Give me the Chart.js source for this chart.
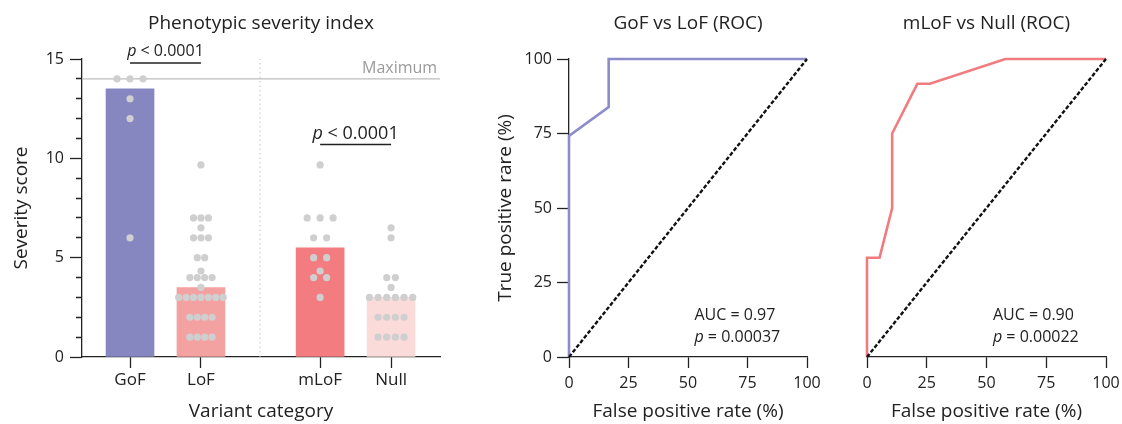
<!DOCTYPE html>
<html>
<head>
<meta charset="utf-8">
<script src="https://cdn.jsdelivr.net/npm/chart.js@4.4.1/dist/chart.umd.min.js"></script>
<style>
  html, body { margin: 0; padding: 0; background: #fff; overflow: hidden; }
  #wrap { position: relative; width: 1122px; height: 424px; }
  .panel { position: absolute; top: 0; height: 424px; }
</style>
</head>
<body>
<div id="wrap">
  <div class="panel" style="left:0;width:460px"><canvas id="severity"></canvas></div>
  <div class="panel" style="left:470px;width:370px"><canvas id="rocGof"></canvas></div>
  <div class="panel" style="left:845px;width:277px"><canvas id="rocMlof"></canvas></div>
</div>
<script>
// --- values ---
const categories = ['GoF', 'LoF', 'mLoF', 'Null'];
const medianScores = [13.5, 3.5, 5.5, 3];
const gofScores = [14, 14, 14, 13, 12, 6];
const lofScores = [9.67, 7, 7, 7, 6.5, 6, 6, 6, 5, 5, 4.33, 4, 4, 4, 4, 3.5,
                   3, 3, 3, 3, 3, 3, 3, 2, 2, 2, 2, 1, 1, 1, 1];
const mlofScores = [9.67, 7, 7, 7, 6, 6, 5, 5, 4.33, 4, 4, 3];
const nullScores = [6.5, 6, 4, 4, 3.5, 3, 3, 3, 3, 3, 3, 2, 2, 2, 2, 1, 1, 1, 1];
const severityTicks = [0, 5, 10, 15];
const maximumScore = 14;
const comparisonP = '< 0.0001';

const rocTicks = [0, 25, 50, 75, 100];
const gofLofFpr = [0, 0, 16.67, 16.67, 100];
const gofLofTpr = [0, 74.19, 83.87, 100, 100];
const mlofNullFpr = [0, 0, 5.26, 10.53, 10.53, 21.05, 26.32, 57.89, 100];
const mlofNullTpr = [0, 33.33, 33.33, 50, 75, 91.67, 91.67, 100, 100];
const chanceLine = [0, 100];
const aucValues = ['0.97', '0.90'];
const rocPValues = ['0.00037', '0.00022'];

// --- look ---
Chart.defaults.font.family = "'Open Sans', sans-serif";
Chart.defaults.color = '#222';
const ink = '#222';
const barColors = ['#8687c1', '#f4a1a2', '#f37c80', '#fbdada'];
const dotColor = '#cfcfcf';

// posiciones de las categorias en el eje x (hueco entre los dos pares)
const slotX = [0, 1, 2.68, 3.68];
const xMin = -0.677, xMax = 4.37, dividerX = 1.834;

// reparte los puntos iguales en fila (tipo beeswarm)
function swarm(values, center) {
  const counts = {};
  values.forEach(v => counts[v] = (counts[v] || 0) + 1);
  const maxCount = Math.max(...Object.values(counts));
  const step = Math.min(0.183, 0.733 / maxCount);
  const seen = {};
  return values.map(v => {
    const i = seen[v] || 0;
    seen[v] = i + 1;
    return { x: center + (i - (counts[v] - 1) / 2) * step, y: v };
  });
}

// texto con la "p" en cursiva
function drawRich(ctx, parts, x, y, size, align, color) {
  ctx.save();
  ctx.textBaseline = 'middle';
  ctx.textAlign = 'left';
  ctx.fillStyle = color || ink;
  const fonts = parts.map(p => (p.italic ? 'italic ' : '') + size + "px 'Open Sans'");
  const widths = parts.map((p, i) => { ctx.font = fonts[i]; return ctx.measureText(p.text).width; });
  const total = widths.reduce((a, b) => a + b, 0);
  let cx = align === 'center' ? x - total / 2 : align === 'right' ? x - total : x;
  parts.forEach((p, i) => { ctx.font = fonts[i]; ctx.fillText(p.text, cx, y); cx += widths[i]; });
  ctx.restore();
}

function titleOpts(text) {
  return { display: true, text: text, fullSize: false, color: ink,
           font: { size: 19, weight: 'normal' }, padding: { top: 12, bottom: 24.2 } };
}

function flatLine(points, color, width, dash) {
  return { type: 'line', data: points, borderColor: color, borderWidth: width,
           borderDash: dash || [], pointRadius: 0, fill: false, tension: 0, order: 4 };
}

// ---------- Phenotypic severity index ----------
const groups = [gofScores, lofScores, mlofScores, nullScores];

const severityLabels = {
  id: 'severityLabels',
  afterDatasetsDraw(chart) {
    const { ctx, scales: { x, y } } = chart;
    ctx.save();
    ctx.font = "16px 'Open Sans'";
    ctx.fillStyle = '#9a9a9a';
    ctx.textAlign = 'right';
    ctx.textBaseline = 'middle';
    ctx.fillText('Maximum', x.getPixelForValue(4.33), y.getPixelForValue(14.5));
    ctx.restore();
    drawRich(ctx, [{ text: 'p', italic: true }, { text: ' ' + comparisonP }],
      (x.getPixelForValue(slotX[0]) + x.getPixelForValue(slotX[1])) / 2, y.getPixelForValue(15.4), 16, 'center');
    drawRich(ctx, [{ text: 'p', italic: true }, { text: ' ' + comparisonP }],
      (x.getPixelForValue(slotX[2]) + x.getPixelForValue(slotX[3])) / 2, y.getPixelForValue(11.25), 18, 'center');
  }
};

new Chart(document.getElementById('severity'), {
  type: 'bar',
  data: {
    datasets: [
      { type: 'bar', data: slotX.map((x, i) => ({ x: x, y: medianScores[i] })),
        backgroundColor: barColors, barThickness: 48, order: 5 },
      flatLine([{ x: xMin, y: maximumScore }, { x: xMax, y: maximumScore }], '#bdbdbd', 1.2),
      flatLine([{ x: dividerX, y: 0 }, { x: dividerX, y: 15 }], '#c4c4c4', 1, [1.5, 3]),
      flatLine([{ x: slotX[0], y: 14.8 }, { x: slotX[1], y: 14.8 }], ink, 1.5),
      flatLine([{ x: slotX[2], y: 10.7 }, { x: slotX[3], y: 10.7 }], ink, 1.5),
      ...groups.map((g, i) => ({
        type: 'scatter', data: swarm(g, slotX[i]), pointRadius: 3.6,
        backgroundColor: dotColor, borderWidth: 0, order: 1
      }))
    ]
  },
  options: {
    responsive: true, maintainAspectRatio: false, animation: false, events: [],
    layout: { padding: { left: 0, right: 20, top: 0, bottom: 0 } },
    plugins: { legend: { display: false }, tooltip: { enabled: false },
               title: titleOpts('Phenotypic severity index') },
    scales: {
      x: {
        type: 'linear', min: xMin, max: xMax, offset: false,
        afterBuildTicks: s => { s.ticks = slotX.map(v => ({ value: v })); },
        afterFit: s => { s.height = 67; s.paddingLeft = 0; s.paddingRight = 0; },
        ticks: { autoSkip: false, maxRotation: 0, padding: 2, font: { size: 17 }, color: ink,
                 callback: (v, i) => categories[i] },
        grid: { offset: false, drawOnChartArea: false, tickLength: 11, tickColor: ink, tickWidth: 1.3 },
        border: { color: ink, width: 1.3 },
        title: { display: true, text: 'Variant category', color: ink, font: { size: 19 },
                 padding: { top: 0, bottom: 1 } }
      },
      y: {
        min: 0, max: 15,
        afterFit: s => { s.width = 82; s.paddingTop = 0; s.paddingBottom = 0; },
        ticks: { stepSize: 1, autoSkip: false, padding: 6, font: { size: 16 }, color: ink,
                 callback: v => severityTicks.includes(v) ? v : '' },
        grid: { drawOnChartArea: false, tickLength: 12, tickColor: ink, tickWidth: 1.3,
                tickBorderDash: c => severityTicks.includes(c.tick.value) ? [] : [0, 6, 6, 20] },
        border: { color: ink, width: 1.3 },
        title: { display: true, text: 'Severity score', color: ink, font: { size: 19 },
                 padding: { top: 10.3, bottom: 0 } }
      }
    }
  },
  plugins: [severityLabels]
});

// ---------- ROC curves ----------
function makeRoc(id, fpr, tpr, color, title, showY, k, pad) {
  const aucText = {
    id: 'aucText' + k,
    afterDatasetsDraw(chart) {
      const { ctx, scales: { x, y } } = chart;
      drawRich(ctx, [{ text: 'AUC = ' + aucValues[k] }], x.getPixelForValue(52.7), y.getPixelForValue(14), 16, 'left');
      drawRich(ctx, [{ text: 'p', italic: true }, { text: ' = ' + rocPValues[k] }],
        x.getPixelForValue(52.7), y.getPixelForValue(6.7), 16, 'left');
    }
  };
  new Chart(document.getElementById(id), {
    type: 'scatter',
    data: {
      datasets: [
        { type: 'line', data: fpr.map((v, i) => ({ x: v, y: tpr[i] })), borderColor: color,
          borderWidth: 2.6, pointRadius: 0, fill: false, tension: 0, order: 2, clip: false },
        { type: 'line', data: chanceLine.map(v => ({ x: v, y: v })), borderColor: '#111',
          borderWidth: 2.4, borderDash: [4, 2], pointRadius: 0, fill: false, order: 1, clip: false }
      ]
    },
    options: {
      responsive: true, maintainAspectRatio: false, animation: false, events: [],
      layout: { padding: pad },
      plugins: { legend: { display: false }, tooltip: { enabled: false }, title: titleOpts(title) },
      scales: {
        x: {
          type: 'linear', min: 0, max: 100,
          afterBuildTicks: s => { s.ticks = rocTicks.map(v => ({ value: v })); },
          afterFit: s => { s.height = 67; s.paddingLeft = 0; s.paddingRight = 0; },
          ticks: { autoSkip: false, maxRotation: 0, padding: 6, font: { size: 16 }, color: ink },
          grid: { drawOnChartArea: false, tickLength: 11, tickColor: ink, tickWidth: 1.3 },
          border: { color: ink, width: 1.3 },
          title: { display: true, text: 'False positive rate (%)', color: ink, font: { size: 19 },
                   padding: { top: 0, bottom: 1 } }
        },
        y: {
          display: showY, min: 0, max: 100,
          afterBuildTicks: s => { s.ticks = rocTicks.map(v => ({ value: v })); },
          afterFit: s => { s.width = showY ? 99 : 0; s.paddingTop = 0; s.paddingBottom = 0; },
          ticks: { autoSkip: false, padding: 5, font: { size: 16 }, color: ink },
          grid: { drawOnChartArea: false, tickLength: 12, tickColor: ink, tickWidth: 1.3 },
          border: { color: ink, width: 1.3 },
          title: { display: true, text: 'True positive rare (%)', color: ink, font: { size: 19 },
                   padding: { top: 23.8, bottom: 0 } }
        }
      }
    },
    plugins: [aucText]
  });
}

makeRoc('rocGof', gofLofFpr, gofLofTpr, '#8c8cca', 'GoF vs LoF (ROC)', true, 0,
        { left: 0, right: 33, top: 0, bottom: 0 });
makeRoc('rocMlof', mlofNullFpr, mlofNullTpr, '#f07c80', 'mLoF vs Null (ROC)', false, 1,
        { left: 22, right: 16, top: 0, bottom: 0 });
</script>
</body>
</html>
